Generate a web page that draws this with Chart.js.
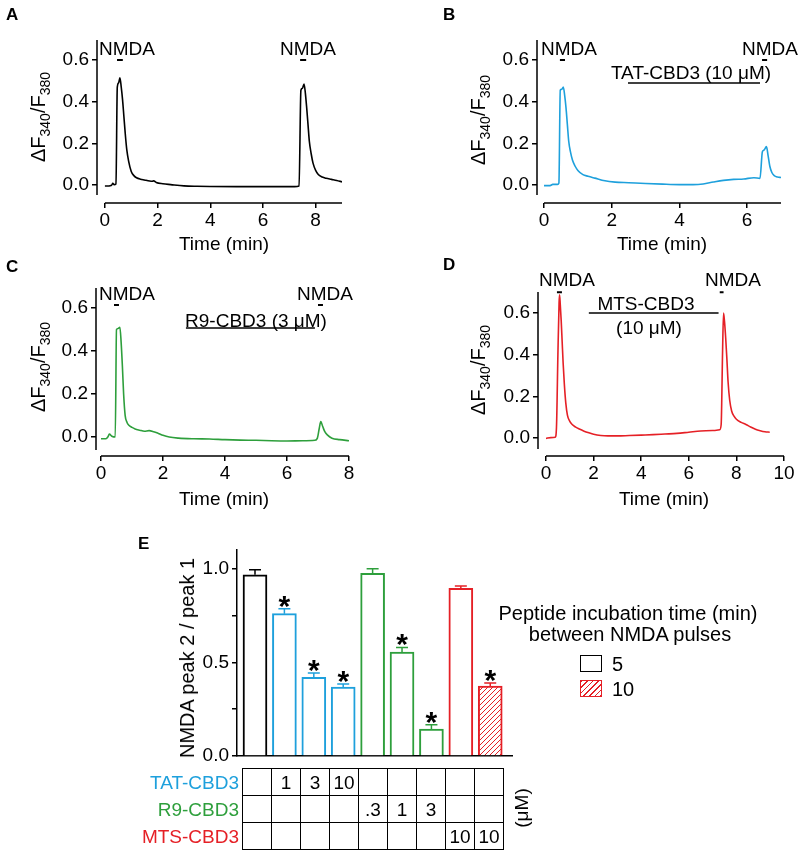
<!DOCTYPE html>
<html><head><meta charset="utf-8">
<script src="https://cdn.jsdelivr.net/npm/chart.js@4.4.1/dist/chart.umd.min.js"></script>
<style>
html,body{margin:0;padding:0;background:#fff;}
#wrap{position:relative;width:802px;height:850px;overflow:hidden;font-family:"Liberation Sans",Arial,sans-serif;color:#000;}
canvas.full{position:absolute;left:0;top:0;pointer-events:none;}
.t{position:absolute;white-space:nowrap;font-size:19px;line-height:1;transform:translate(-50%,-50%);}
.lt{position:absolute;white-space:nowrap;font-size:19px;line-height:1;transform:translate(0,-50%);}
.rt{position:absolute;white-space:nowrap;font-size:19px;line-height:1;transform:translate(-100%,-50%);}
.lbl{position:absolute;font-weight:bold;font-size:17px;line-height:1;}
.rot{position:absolute;white-space:nowrap;font-size:20px;line-height:1;transform:translate(-50%,-50%) rotate(-90deg);}
.rotu{position:absolute;white-space:nowrap;font-size:19px;line-height:1;transform:translate(-50%,-50%) rotate(-90deg);}
.rot sub{font-size:14px;vertical-align:-5px;line-height:1;}
.sq{position:absolute;width:20px;height:15px;box-sizing:content-box;}
table.tb{position:absolute;left:242px;top:768px;border-collapse:collapse;table-layout:fixed;}
table.tb td{width:28px;height:26px;border:1px solid #000;padding:0;text-align:center;font-size:19px;line-height:1;}
</style></head><body><div id="wrap">
<canvas id="cA" class="full" width="802" height="850"></canvas>
<canvas id="cB" class="full" width="802" height="850"></canvas>
<canvas id="cC" class="full" width="802" height="850"></canvas>
<canvas id="cD" class="full" width="802" height="850"></canvas>
<canvas id="cE" class="full" width="802" height="850"></canvas>

<div class="lbl" style="left:6px;top:6px">A</div>
<div class="lbl" style="left:443px;top:6px">B</div>
<div class="lbl" style="left:6px;top:258px">C</div>
<div class="lbl" style="left:443px;top:256px">D</div>
<div class="lbl" style="left:138px;top:535px">E</div>

<div class="rot" style="left:40px;top:117px">ΔF<sub>340</sub>/F<sub>380</sub></div>
<div class="rot" style="left:480px;top:120px">ΔF<sub>340</sub>/F<sub>380</sub></div>
<div class="rot" style="left:40px;top:367px">ΔF<sub>340</sub>/F<sub>380</sub></div>
<div class="rot" style="left:480px;top:370px">ΔF<sub>340</sub>/F<sub>380</sub></div>

<div class="t" style="left:224px;top:243px">Time (min)</div>
<div class="t" style="left:662px;top:243px">Time (min)</div>
<div class="t" style="left:224px;top:498px">Time (min)</div>
<div class="t" style="left:664px;top:498px">Time (min)</div>

<div class="t" style="left:127px;top:48px">NMDA</div>
<div class="t" style="left:308px;top:48px">NMDA</div>
<div class="t" style="left:569px;top:48px">NMDA</div>
<div class="t" style="left:770px;top:48px">NMDA</div>
<div class="t" style="left:691px;top:72px">TAT-CBD3 (10 μM)</div>
<div class="t" style="left:127px;top:293px">NMDA</div>
<div class="t" style="left:325px;top:293px">NMDA</div>
<div class="t" style="left:256px;top:320px">R9-CBD3 (3 μM)</div>
<div class="t" style="left:567px;top:279px">NMDA</div>
<div class="t" style="left:733px;top:279px">NMDA</div>
<div class="t" style="left:646px;top:303px">MTS-CBD3</div>
<div class="t" style="left:649px;top:327px">(10 μM)</div>

<div class="rot" style="left:187px;top:658px">NMDA peak 2 / peak 1</div>

<div class="t" style="left:628px;top:613px;font-size:20px">Peptide incubation time (min)</div>
<div class="t" style="left:630px;top:634px;font-size:20px">between NMDA pulses</div>
<div class="sq" style="left:580px;top:655px;border:1.5px solid #000;background:#fff"></div>
<div class="lt" style="left:612px;top:664px;font-size:20px">5</div>
<div class="sq" style="left:580px;top:680px;border:1.5px solid #e52026;background:repeating-linear-gradient(135deg,#e52026 0 1px,#fff 1px 4px)"></div>
<div class="lt" style="left:612px;top:689px;font-size:20px">10</div>

<div id="rowlabels"></div>
<table class="tb" id="tb"></table>
<div class="rotu" style="left:521px;top:808px">(μM)</div>
</div>
<script>
// ---------- Data ----------
const timeA = [0, 0.1, 0.2, 0.26, 0.3, 0.35, 0.42, 0.47, 0.52, 0.57, 0.62, 0.67, 0.72, 0.77, 0.83, 0.9, 1.0, 1.1, 1.2, 1.35, 1.5, 1.7, 1.8, 1.85, 1.95, 2.2, 2.5, 3.0, 3.5, 4.0, 5.0, 6.0, 6.8, 7.2, 7.37, 7.44, 7.5, 7.56, 7.61, 7.66, 7.71, 7.76, 7.83, 7.9, 8.0, 8.1, 8.25, 8.4, 8.6, 8.8, 9.0];
const dffA  = [-0.005, -0.005, -0.004, 0.0, 0.008, 0.002, 0.005, 0.47, 0.49, 0.515, 0.47, 0.41, 0.33, 0.25, 0.17, 0.115, 0.065, 0.045, 0.035, 0.028, 0.024, 0.019, 0.018, 0.02, 0.012, 0.006, 0.002, -0.004, -0.006, -0.007, -0.008, -0.008, -0.008, -0.008, -0.005, 0.455, 0.465, 0.485, 0.44, 0.37, 0.29, 0.21, 0.15, 0.105, 0.07, 0.05, 0.038, 0.032, 0.027, 0.022, 0.015];

const timeB = [0, 0.18, 0.26, 0.4, 0.44, 0.48, 0.53, 0.57, 0.61, 0.65, 0.69, 0.73, 0.78, 0.84, 0.92, 1.0, 1.15, 1.3, 1.5, 1.8, 2.1, 2.5, 3.0, 3.5, 4.0, 4.4, 4.7, 5.0, 5.3, 5.6, 5.9, 6.2, 6.38, 6.45, 6.5, 6.57, 6.62, 6.67, 6.73, 6.8, 6.9, 7.0];
const dffB  = [-0.003, -0.003, 0.003, 0.003, 0.01, 0.455, 0.46, 0.47, 0.43, 0.37, 0.29, 0.21, 0.16, 0.12, 0.09, 0.07, 0.05, 0.042, 0.033, 0.02, 0.014, 0.011, 0.007, 0.004, 0.002, 0.002, 0.005, 0.014, 0.022, 0.027, 0.029, 0.035, 0.032, 0.16, 0.168, 0.184, 0.14, 0.09, 0.06, 0.045, 0.038, 0.036];

const timeC = [0, 0.16, 0.22, 0.27, 0.35, 0.46, 0.5, 0.55, 0.61, 0.65, 0.69, 0.73, 0.78, 0.84, 0.9, 1.0, 1.1, 1.25, 1.4, 1.55, 1.7, 1.85, 2.0, 2.2, 2.5, 3.0, 3.5, 4.0, 4.5, 5.0, 5.5, 6.0, 6.5, 6.9, 6.98, 7.04, 7.09, 7.15, 7.22, 7.3, 7.45, 7.7, 8.0];
const dffC  = [-0.008, -0.008, 0.0, 0.014, 0.004, 0.0, 0.5, 0.505, 0.51, 0.44, 0.33, 0.2, 0.1, 0.068, 0.055, 0.045, 0.038, 0.032, 0.027, 0.03, 0.025, 0.017, 0.008, 0.0, -0.005, -0.008, -0.009, -0.012, -0.014, -0.015, -0.017, -0.018, -0.017, -0.015, -0.005, 0.04, 0.072, 0.05, 0.025, 0.01, -0.005, -0.012, -0.017];

const timeD = [0, 0.2, 0.39, 0.44, 0.5, 0.55, 0.57, 0.6, 0.64, 0.68, 0.72, 0.77, 0.83, 0.9, 1.0, 1.1, 1.25, 1.4, 1.6, 1.8, 2.0, 2.3, 2.6, 3.0, 3.5, 4.0, 4.5, 5.0, 5.5, 6.0, 6.5, 7.0, 7.3, 7.36, 7.42, 7.46, 7.5, 7.55, 7.6, 7.65, 7.72, 7.8, 7.9, 8.0, 8.2, 8.4, 8.6, 8.8, 9.0, 9.2, 9.4];
const dffD  = [-0.002, 0.002, 0.004, 0.05, 0.4, 0.65, 0.688, 0.64, 0.56, 0.46, 0.36, 0.26, 0.17, 0.11, 0.08, 0.065, 0.052, 0.043, 0.033, 0.025, 0.018, 0.012, 0.01, 0.01, 0.012, 0.014, 0.016, 0.019, 0.022, 0.028, 0.034, 0.036, 0.04, 0.065, 0.42, 0.6, 0.56, 0.48, 0.38, 0.27, 0.18, 0.13, 0.105, 0.09, 0.075, 0.065, 0.053, 0.042, 0.035, 0.03, 0.028];

// NMDA pulses and peptide application periods (min)
const pulsesA = [[0.46, 0.68], [7.41, 7.64]];
const pulsesB = [[0.47, 0.62], [6.44, 6.59]];
const peptideB = [2.48, 6.38];
const pulsesC = [[0.42, 0.58], [7.0, 7.16]];
const peptideC = [2.74, 6.9];
const pulsesD = [[0.46, 0.67], [7.3, 7.46]];
const peptideD = [1.8, 7.25];

// Panel E
const ratioValues = [0.968, 0.76, 0.42, 0.368, 0.975, 0.555, 0.144, 0.895, 0.373];
const ratioErrors = [0.027, 0.026, 0.023, 0.017, 0.025, 0.025, 0.023, 0.013, 0.017];
const significant = [false, true, true, true, false, true, true, false, true];
const peptideGroup = ['control', 'TAT', 'TAT', 'TAT', 'R9', 'R9', 'R9', 'MTS', 'MTS'];
const incubation = [5, 5, 5, 5, 5, 5, 5, 5, 10];
const rowNames = ['TAT-CBD3', 'R9-CBD3', 'MTS-CBD3'];
const tatConc = ['', '1', '3', '10', '', '', '', '', ''];
const r9Conc  = ['', '', '', '', '.3', '1', '3', '', ''];
const mtsConc = ['', '', '', '', '', '', '', '10', '10'];

// ---------- Styles ----------
const BLUE = '#1ea0dc', GREEN = '#2e9f3c', RED = '#e52026', BLACK = '#000';
const groupColor = {control: BLACK, TAT: BLUE, R9: GREEN, MTS: RED};
const FONT = '"Liberation Sans", Arial, sans-serif';
Chart.defaults.font.family = FONT;
Chart.defaults.font.size = 19;
Chart.defaults.color = '#000';

function tracePanel(id, t, v, color, g, pulses, peptide) {
  const decor = {
    id: 'decor_' + id,
    afterDraw(chart) {
      const ctx = chart.ctx, xs = chart.scales.x, ys = chart.scales.y, ca = chart.chartArea;
      ctx.save();
      ctx.strokeStyle = '#000';
      ctx.lineWidth = 1.5;
      ctx.beginPath();
      ctx.moveTo(ca.left, ys.getPixelForValue(g.ymax));
      ctx.lineTo(ca.left, ys.getPixelForValue(g.yLow));
      ctx.moveTo(xs.getPixelForValue(0), ca.bottom);
      ctx.lineTo(xs.getPixelForValue(g.xmax), ca.bottom);
      ctx.stroke();
      ctx.lineWidth = 2;
      ctx.beginPath();
      pulses.forEach(p => {
        const y = ys.getPixelForValue(g.pulseY);
        ctx.moveTo(xs.getPixelForValue(p[0]), y);
        ctx.lineTo(xs.getPixelForValue(p[1]), y);
      });
      ctx.stroke();
      if (peptide) {
        ctx.lineWidth = 1.5;
        ctx.beginPath();
        const y = ys.getPixelForValue(g.pepY);
        ctx.moveTo(xs.getPixelForValue(peptide[0]), y);
        ctx.lineTo(xs.getPixelForValue(peptide[1]), y);
        ctx.stroke();
      }
      ctx.restore();
    }
  };
  const YW = 60, XH = 30;
  return new Chart(document.getElementById(id), {
    type: 'scatter',
    data: { datasets: [{
      data: t.map((x, i) => ({x: x, y: v[i]})),
      showLine: true, borderColor: color, borderWidth: 1.6,
      pointRadius: 0, cubicInterpolationMode: 'monotone', fill: false
    }]},
    options: {
      responsive: false, animation: false, devicePixelRatio: 1,
      layout: { padding: { left: g.left - YW, top: g.top, right: 802 - g.right, bottom: 850 - g.bottom - XH } },
      plugins: { legend: { display: false }, tooltip: { enabled: false } },
      scales: {
        x: {
          type: 'linear', min: g.xmin, max: g.xmax,
          border: { display: false },
          grid: { display: true, drawOnChartArea: false, drawTicks: true, tickLength: 5, color: '#000', lineWidth: 1.5 },
          ticks: { stepSize: 2, includeBounds: false, padding: 1, maxRotation: 0, autoSkip: false, callback: v => String(Math.round(v)) },
          afterFit: s => { s.height = XH; }
        },
        y: {
          type: 'linear', min: g.ymin, max: g.ymax,
          border: { display: false },
          grid: { display: true, drawOnChartArea: false, drawTicks: true, tickLength: 5, color: '#000', lineWidth: 1.5 },
          ticks: { stepSize: 0.2, includeBounds: false, padding: 3, callback: v => (Math.abs(v) < 1e-9 ? 0 : v).toFixed(1) },
          afterFit: s => { s.width = YW; }
        }
      }
    },
    plugins: [decor]
  });
}

tracePanel('cA', timeA, dffA, BLACK,
  {left: 97, top: 40, right: 342, bottom: 203, xmin: -0.30, xmax: 9.0, ymin: -0.0864, ymax: 0.696, yLow: -0.048, pulseY: 0.6}, pulsesA, null);
tracePanel('cB', timeB, dffB, BLUE,
  {left: 537, top: 40, right: 781, bottom: 203, xmin: -0.207, xmax: 7.0, ymin: -0.0864, ymax: 0.696, yLow: -0.048, pulseY: 0.6, pepY: 0.49}, pulsesB, peptideB);
tracePanel('cC', timeC, dffC, GREEN,
  {left: 96, top: 288, right: 349, bottom: 456, xmin: -0.161, xmax: 8.0, ymin: -0.088, ymax: 0.693, yLow: -0.06, pulseY: 0.614, pepY: 0.507}, pulsesC, peptideC);
tracePanel('cD', timeD, dffD, RED,
  {left: 538, top: 292, right: 784, bottom: 456, xmin: -0.336, xmax: 10.0, ymin: -0.0864, ymax: 0.701, yLow: -0.053, pulseY: 0.70, pepY: 0.60}, pulsesD, peptideD);

// ---------- Panel E ----------
function hatchPattern(color) {
  const c = document.createElement('canvas');
  c.width = 5; c.height = 5;
  const x = c.getContext('2d');
  x.fillStyle = '#fff'; x.fillRect(0, 0, 5, 5);
  x.strokeStyle = color; x.lineWidth = 1;
  x.beginPath();
  x.moveTo(0, 5); x.lineTo(5, 0);
  x.moveTo(-1, 1); x.lineTo(1, -1);
  x.moveTo(4, 6); x.lineTo(6, 4);
  x.stroke();
  return document.getElementById('cE').getContext('2d').createPattern(c, 'repeat');
}
const barColors = peptideGroup.map(g => groupColor[g]);
const barFills = incubation.map((d, i) => d === 10 ? hatchPattern(barColors[i]) : '#fff');

const errPlugin = {
  id: 'errE',
  afterDatasetsDraw(chart) {
    const ctx = chart.ctx, xs = chart.scales.x, ys = chart.scales.y;
    ctx.save();
    ratioValues.forEach((v, i) => {
      const x = xs.getPixelForValue(i);
      const y0 = ys.getPixelForValue(v), y1 = ys.getPixelForValue(v + ratioErrors[i]);
      ctx.strokeStyle = barColors[i]; ctx.lineWidth = 1.5;
      ctx.beginPath();
      ctx.moveTo(x, y0); ctx.lineTo(x, y1);
      ctx.moveTo(x - 6, y1); ctx.lineTo(x + 6, y1);
      ctx.stroke();
      if (significant[i]) {
        ctx.fillStyle = '#000';
        ctx.font = 'bold 30px ' + FONT;
        ctx.textAlign = 'center'; ctx.textBaseline = 'alphabetic';
        ctx.fillText('*', x, y1 + 7);
      }
    });
    ctx.restore();
  }
};

const EL = 237, ET = 550, ER = 512, EB = 756, EYW = 60, EXH = 10;
new Chart(document.getElementById('cE'), {
  type: 'bar',
  data: { datasets: [{
    data: ratioValues.map((v, i) => ({x: i, y: v})),
    backgroundColor: barFills, borderColor: barColors, borderWidth: 2,
    borderSkipped: 'bottom', barThickness: 24
  }]},
  options: {
    responsive: false, animation: false, devicePixelRatio: 1,
    layout: { padding: { left: EL - EYW, top: ET, right: 802 - ER, bottom: 850 - EB - EXH } },
    plugins: { legend: { display: false }, tooltip: { enabled: false } },
    scales: {
      x: {
        type: 'linear', min: -0.612, max: 8.74, offset: false,
        border: { display: true, color: '#000', width: 1.5 },
        grid: { display: false },
        ticks: { display: false },
        afterFit: s => { s.height = EXH; }
      },
      y: {
        type: 'linear', min: 0, max: 1.1,
        border: { display: true, color: '#000', width: 1.5 },
        grid: { display: true, drawOnChartArea: false, drawTicks: true, tickLength: 5, color: '#000', lineWidth: 1.5 },
        ticks: { stepSize: 0.25, includeBounds: false, padding: 3,
          callback: v => (Math.abs(v * 2 - Math.round(v * 2)) < 1e-6 ? v.toFixed(1) : '') },
        afterFit: s => { s.width = EYW; }
      }
    }
  },
  plugins: [errPlugin]
});

// ---------- Table ----------
const rowColors = [BLUE, GREEN, RED];
const rows = [tatConc, r9Conc, mtsConc];
const tb = document.getElementById('tb');
rows.forEach((r, ri) => {
  const tr = document.createElement('tr');
  r.forEach(val => { const td = document.createElement('td'); td.textContent = val; tr.appendChild(td); });
  tb.appendChild(tr);
  const d = document.createElement('div');
  d.className = 'rt';
  d.style.left = '239px';
  d.style.top = (782 + ri * 27) + 'px';
  d.style.color = rowColors[ri];
  d.textContent = rowNames[ri];
  document.getElementById('rowlabels').appendChild(d);
});
</script>
</body></html>
